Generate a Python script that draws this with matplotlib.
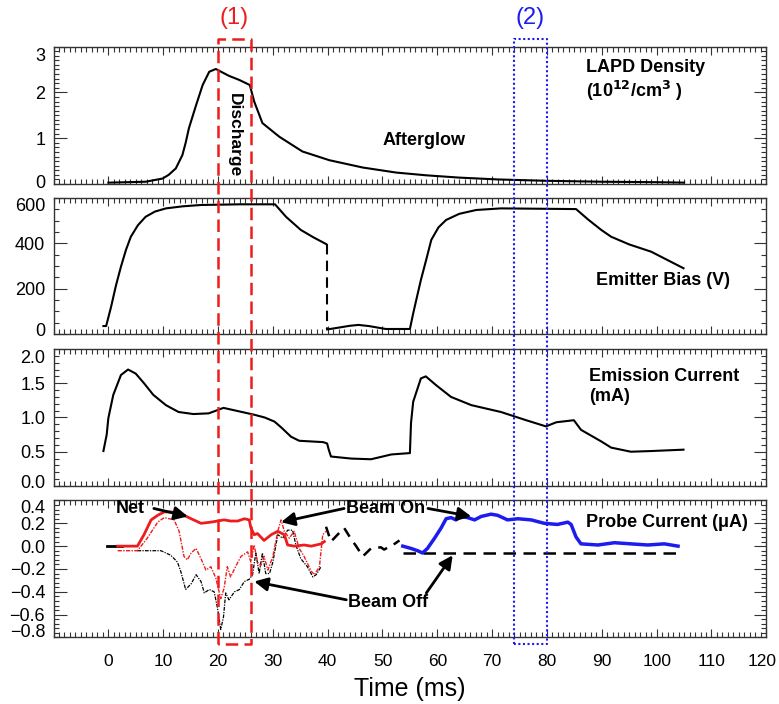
import matplotlib
matplotlib.use("Agg")
import matplotlib.pyplot as plt
import matplotlib.transforms as mtransforms
from matplotlib.lines import Line2D
from matplotlib.ticker import MultipleLocator

plt.rcParams['font.family'] = ['Liberation Sans', 'DejaVu Sans']

# panel 1: LAPD density (10^12 / cm^3)
density_t = [0, 6.8, 9.9, 11.0, 12.3, 13.5, 14.1, 14.7, 16.0, 17.2, 18.4, 19.6, 22.0, 23.9,
             25.8, 26.6, 28.1, 31.2, 35.4, 40.3, 46.4, 52.5, 58, 64, 71, 80, 90, 100, 105]
density = [0.03, 0.05, 0.12, 0.20, 0.34, 0.63, 0.90, 1.22, 1.72, 2.16, 2.45, 2.51, 2.36, 2.27,
           2.16, 1.80, 1.33, 1.03, 0.71, 0.52, 0.36, 0.25, 0.19, 0.14, 0.10, 0.07, 0.05, 0.04, 0.03]

# panel 2: emitter bias (V)
bias1_t = [-0.9, -0.4, 0.5, 1.4, 2.3, 3.2, 4.1, 5.4, 6.8, 8.5, 10.5, 13.5, 16.9, 24, 30.4,
           32.4, 35.1, 37.5, 39.7]
bias1 = [35, 35, 120, 215, 297, 370, 429, 480, 517, 540, 554, 563, 569, 572, 572,
         517, 459, 425, 397]
bias_jump_t = [39.9, 39.9]
bias_jump = [397, 20]
bias2_t = [39.9, 42, 44, 45.6, 47.5, 50.6, 55.0, 55.6, 56.3, 57.0, 58.0, 58.9, 60.2, 61.6,
           64, 67.1, 71.6, 85.3, 87.5, 89.9, 91.7, 95, 99, 104.9]
bias2 = [20, 28, 36, 40, 35, 22, 22, 91, 165, 238, 330, 415, 470, 503,
         530, 547, 554, 551, 505, 459, 429, 395, 363, 290]

# panel 3: emission current (mA)
emission_t = [-0.9, -0.3, 0.0, 0.9, 2.3, 3.6, 5.0, 6.5, 8.2, 10.5, 12.8, 15.5, 18.3, 21.0,
              23.8, 26.6, 28.5, 30.3, 31.6, 33.3, 34.8, 37, 39.2, 39.9, 40.2, 40.6, 44.3,
              47.9, 49.5, 51.6, 55.0, 55.2, 55.6, 57.0, 57.9, 59.8, 62.5, 66.2, 71.6, 76.2,
              79.8, 81.7, 84.9, 86.2, 89.9, 91.7, 95.3, 99.0, 104.9]
emission = [0.51, 0.75, 0.99, 1.33, 1.62, 1.70, 1.64, 1.50, 1.33, 1.18, 1.08, 1.05, 1.06, 1.14,
            1.09, 1.04, 1.00, 0.94, 0.85, 0.72, 0.66, 0.65, 0.64, 0.62, 0.53, 0.43, 0.40,
            0.39, 0.42, 0.46, 0.48, 0.92, 1.23, 1.57, 1.60, 1.47, 1.30, 1.18, 1.08, 0.96,
            0.87, 0.93, 0.96, 0.82, 0.65, 0.56, 0.50, 0.51, 0.53]

# panel 4: probe current (uA)
start_t = [-0.3, 2.5]
start = [0.0, 0.0]
net_t = [1.7, 5.3, 6.5, 7.8, 9.0, 10.2, 11.4, 12.6, 13.8, 15.1, 16.9, 18.7, 19.9, 21.1, 22.3,
         23.6, 24.8, 25.7, 26.0, 26.6, 27.2, 28.4, 29.7, 30.9, 32.1, 32.7, 33.9, 35.7, 37.0,
         38.8, 39.4]
net = [0.0, 0.0, 0.10, 0.23, 0.27, 0.30, 0.30, 0.29, 0.27, 0.24, 0.20, 0.21, 0.22, 0.23, 0.22,
       0.22, 0.24, 0.23, 0.16, 0.10, 0.11, 0.05, 0.10, 0.13, 0.10, 0.01, 0.0, 0.01, 0.0,
       0.02, 0.04]
beam_on_t = [1.7, 5.3, 7.1, 9.0, 10.2, 12.0, 12.9, 13.8, 14.4, 15.1, 16.0, 16.9, 17.8, 18.7,
             19.6, 20.5, 21.1, 21.7, 22.3, 23.3, 24.2, 25.4, 26.0, 26.6, 27.2, 27.8, 28.4,
             29.1, 30.0, 30.9, 31.5, 32.1, 33.0, 33.9, 34.8, 35.7, 37.0, 37.6, 38.5, 39.1, 39.7]
beam_on = [-0.04, -0.04, 0.07, 0.21, 0.25, 0.23, 0.13, -0.09, -0.12, -0.06, -0.02, -0.11,
           -0.21, -0.18, -0.28, -0.46, -0.37, -0.18, -0.27, -0.17, -0.09, -0.05, -0.14, 0.01,
           -0.14, -0.17, -0.09, -0.21, -0.09, 0.13, 0.23, 0.13, 0.07, 0.13, -0.02, -0.09,
           -0.22, -0.25, -0.18, 0.10, 0.13]
beam_off_t = [5.3, 9.6, 11.4, 12.6, 13.2, 14.1, 15.1, 16.0, 16.9, 17.5, 18.4, 19.3, 19.9, 20.5,
              21.0, 21.4, 22.0, 23.0, 23.9, 24.8, 25.7, 26.3, 26.9, 27.5, 28.1, 28.7, 29.4,
              30.0, 30.9, 31.8, 32.7, 33.6, 34.2, 35.1, 36.3, 37.3, 37.9, 38.8]
beam_off = [-0.04, -0.04, -0.08, -0.14, -0.22, -0.38, -0.33, -0.25, -0.31, -0.41, -0.38,
            -0.40, -0.54, -0.73, -0.62, -0.41, -0.47, -0.40, -0.38, -0.31, -0.29, -0.25,
            -0.06, -0.24, -0.06, -0.24, -0.24, -0.14, 0.10, 0.07, 0.14, 0.14, 0.01, -0.11,
            -0.18, -0.27, -0.25, -0.18]
gap_t = [39.7, 40.6, 42.0, 43.0, 44.3, 45.2, 46.4, 47.9, 49.7, 50.3, 52.2, 53.1]
gap = [0.17, 0.04, 0.11, 0.16, 0.06, 0.0, -0.09, -0.02, -0.01, -0.03, 0.02, 0.05]
late_t = [53.7, 55.2, 56.4, 57.3, 58.2, 59.5, 60.7, 61.6, 62.5, 63.4, 64.3, 65.5, 66.8, 68.0,
          69.8, 71.0, 72.8, 74.7, 77.1, 79.5, 81.9, 83.8, 84.4, 85.3, 86.2, 89.3, 92.3, 95.3,
          98.4, 101.4, 103.9]
late = [0.0, -0.02, -0.04, -0.06, -0.02, 0.07, 0.16, 0.24, 0.25, 0.23, 0.26, 0.25, 0.23, 0.26,
        0.28, 0.27, 0.23, 0.24, 0.23, 0.20, 0.19, 0.21, 0.19, 0.08, 0.02, 0.01, 0.03, 0.02,
        0.01, 0.02, 0.0]
baseline_t = [53.7, 103.9]
baseline = [-0.06, -0.06]

# time windows (1) and (2)
window1 = [20, 26]
window2 = [74, 80]

xticks = list(range(0, 130, 10))
RED = '#ee1c1c'
BLUE = '#1c1cee'
BOLD = dict(fontsize=13, fontweight='bold')


def setup_axis(ax, ylim, yticks, ylabels, yminor, bottom=False):
  ax.set_xlim(-10, 120)
  ax.set_ylim(*ylim)
  ax.set_xticks(xticks)
  ax.xaxis.set_minor_locator(MultipleLocator(1))
  ax.set_yticks(yticks)
  ax.set_yticklabels(ylabels)
  ax.yaxis.set_minor_locator(MultipleLocator(yminor))
  ax.tick_params(which='both', direction='in', top=True, right=True, color='#333333', width=0.8)
  ax.tick_params(which='major', axis='y', length=9, labelsize=13, pad=6)
  ax.tick_params(which='major', axis='x', length=6, labelsize=12.5, pad=12)
  ax.tick_params(which='minor', length=3.5)
  if bottom:
    ax.set_xticklabels([str(v) for v in xticks])
    ax.set_xlabel('Time (ms)', fontsize=18, labelpad=6)
  else:
    ax.set_xticklabels([])
  for s in ax.spines.values():
    s.set_color('#333333')
    s.set_linewidth(1.0)


def shift(fig, lab, dx_px, dy_px):
  off = mtransforms.ScaledTranslation(dx_px / 100, dy_px / 100, fig.dpi_scale_trans)
  lab.set_transform(lab.get_transform() + off)


def squeeze_labels(fig, ax, top_px, bottom_px):
  # the end labels sit a little inside the frame, as in the original
  labs = ax.get_yticklabels()
  shift(fig, labs[-1], 0, -top_px)
  shift(fig, labs[0], 0, bottom_px)


def draw():
  fig = plt.figure(figsize=(7.79, 7.04), dpi=100)
  left, width = 0.0687, 0.915
  ax1 = fig.add_axes([left, 0.7386, width, 0.1953])
  ax2 = fig.add_axes([left, 0.5256, width, 0.1932])
  ax3 = fig.add_axes([left, 0.3097, width, 0.1946])
  ax4 = fig.add_axes([left, 0.0945, width, 0.1946])

  # density
  ax1.plot(density_t, density, color='k', lw=1.5)
  setup_axis(ax1, (0, 3), [0, 1, 2, 3], ['0', '1', '2', '3'], 0.1)
  ax1.text(87.1, 2.25, 'LAPD Density\n(10$^{\\mathbf{12}}$/cm$^{\\mathbf{3}}$ )', ha='left', va='center', **BOLD)
  ax1.text(50.1, 0.96, 'Afterglow', ha='left', va='center', **BOLD)
  ax1.text(22.9, 1.07, 'Discharge', rotation=270, ha='center', va='center', fontsize=12.5, fontweight='bold')

  # emitter bias
  ax2.plot(bias1_t, bias1, color='k', lw=1.5)
  ax2.plot(bias_jump_t, bias_jump, color='k', lw=1.5, ls=(0, (5, 3)))
  ax2.plot(bias2_t, bias2, color='k', lw=1.5)
  setup_axis(ax2, (0, 600), [0, 200, 400, 600], ['0', '200', '400', '600'], 50)
  ax2.text(89, 238, 'Emitter Bias (V)', ha='left', va='center', **BOLD)

  # emission current
  ax3.plot(emission_t, emission, color='k', lw=1.5)
  setup_axis(ax3, (0, 2), [0, 0.5, 1.0, 1.5, 2.0], ['0.0', '0.5', '1.0', '1.5', '2.0'], 0.1)
  ax3.text(87.7, 1.45, 'Emission Current\n(mA)', ha='left', va='center', **BOLD)

  # probe current
  ax4.plot(start_t, start, color='k', lw=2)
  ax4.plot(beam_off_t, beam_off, color='k', lw=0.9, ls=(0, (3, 1, 1, 1)))
  ax4.plot(beam_on_t, beam_on, color=RED, lw=1.0, ls=(0, (3, 1, 1, 1)))
  ax4.plot(net_t, net, color=RED, lw=2)
  ax4.plot(gap_t, gap, color='k', lw=1.8, ls=(0, (4, 3)))
  ax4.plot(baseline_t, baseline, color='k', lw=1.8, ls=(0, (5, 3)))
  ax4.plot(late_t, late, color=BLUE, lw=2.5)
  setup_axis(ax4, (-0.8, 0.4), [-0.8, -0.6, -0.4, -0.2, 0.0, 0.2, 0.4],
             ['\u22120.8', '\u22120.6', '\u22120.4', '\u22120.2', '0.0', '0.2', '0.4'], 0.04, bottom=True)
  ax4.text(87.1, 0.21, 'Probe Current (\u03bcA)', ha='left', va='center', **BOLD)
  ax4.text(1.4, 0.33, 'Net', ha='left', va='center', **BOLD)
  ax4.text(43.3, 0.33, 'Beam On', ha='left', va='center', **BOLD)
  ax4.text(43.7, -0.49, 'Beam Off', ha='left', va='center', **BOLD)
  arrow = dict(arrowstyle='-|>', color='k', lw=2, mutation_scale=20, shrinkA=0, shrinkB=0)
  ax4.annotate('', xy=(14.5, 0.26), xytext=(8.3, 0.33), arrowprops=arrow)
  ax4.annotate('', xy=(31.5, 0.21), xytext=(43.0, 0.33), arrowprops=arrow)
  ax4.annotate('', xy=(66.2, 0.26), xytext=(58.3, 0.33), arrowprops=arrow)
  ax4.annotate('', xy=(26.6, -0.31), xytext=(43.4, -0.47), arrowprops=arrow)
  ax4.annotate('', xy=(62.8, -0.08), xytext=(58.0, -0.41), arrowprops=arrow)

  for ax, tp, bp in [(ax1, 8, 3), (ax2, 7, 4), (ax3, 8, 4), (ax4, 6, 7)]:
    squeeze_labels(fig, ax, tp, bp)
  # keep "120" inside the canvas
  shift(fig, ax4.get_xticklabels()[-1], -4, 0)

  # time window boxes spanning all panels
  tr = mtransforms.blended_transform_factory(ax4.transData, fig.transFigure)
  y_top, y_bot = 1 - 39 / 704, 1 - 644 / 704
  box1_x = [window1[0], window1[0], window1[1], window1[1], window1[0]]
  box2_x = [window2[0], window2[0], window2[1], window2[1], window2[0]]
  box_y = [y_bot, y_top, y_top, y_bot, y_bot]
  fig.add_artist(Line2D(box1_x, box_y, transform=tr, color=RED, lw=1.8, ls=(0, (5, 2.5))))
  fig.add_artist(Line2D(box2_x, box_y, transform=tr, color=BLUE, lw=1.5, ls=(0, (1, 1.2))))
  fig.text(sum(window1) / 2, 1 - 18 / 704, '(1)', transform=tr, ha='center', va='center', color=RED, fontsize=17)
  fig.text(sum(window2) / 2, 1 - 18 / 704, '(2)', transform=tr, ha='center', va='center', color=BLUE, fontsize=17)

  fig.savefig('out.png', dpi=100)


def run():
  draw()

run()
